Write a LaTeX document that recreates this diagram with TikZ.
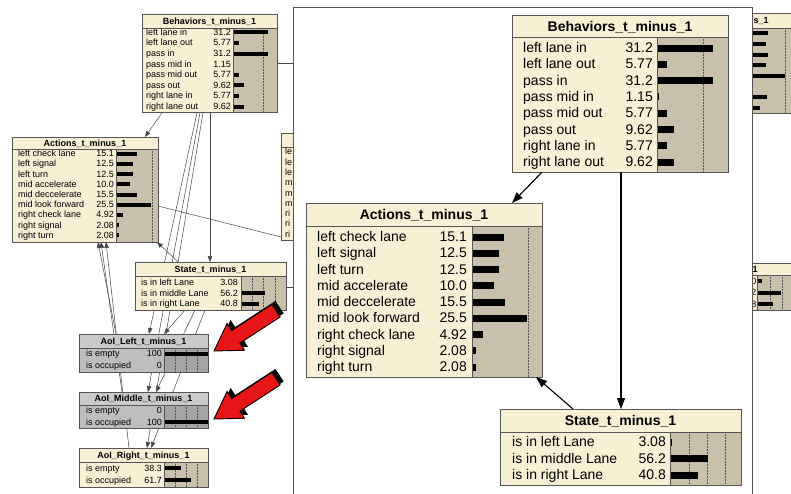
\documentclass[tikz,border=0pt]{standalone}
\usepackage{fontspec}
\setmainfont{Liberation Sans}
\usetikzlibrary{calc,arrows.meta}
\pgfdeclarelayer{bglayer}
\pgfdeclarelayer{edgelayer}
\pgfsetlayers{bglayer,edgelayer,main}

\definecolor{bncream}{RGB}{248,240,212}
\definecolor{bnbar}{RGB}{200,192,170}
\definecolor{bnline}{RGB}{85,85,85}
\definecolor{bnedge}{RGB}{70,70,70}
\definecolor{bngrayhead}{RGB}{202,202,202}
\definecolor{bngraybody}{RGB}{190,190,190}
\definecolor{bngraybar}{RGB}{165,165,165}
\definecolor{bnred}{RGB}{232,22,22}

\pgfkeys{
 /bn/.is family,
 /bn/x/.store in=\bnX, /bn/y/.store in=\bnY, /bn/w/.store in=\bnW,
 /bn/th/.store in=\bnTH, /bn/rh/.store in=\bnRH, /bn/n/.store in=\bnN,
 /bn/bpad/.store in=\bnBP, /bn/bl/.store in=\bnBL,
 /bn/lx/.store in=\bnLX, /bn/vx/.store in=\bnVX, /bn/bx/.store in=\bnBX,
 /bn/sc/.store in=\bnSC, /bn/fs/.store in=\bnFS, /bn/tfs/.store in=\bnTFS,
 /bn/bh/.store in=\bnBH, /bn/bc/.store in=\bnBC, /bn/dots/.store in=\bnDots,
 /bn/head/.store in=\bnHead, /bn/body/.store in=\bnBody, /bn/bar/.store in=\bnBar,
 /bn/title/.store in=\bnTitle,
}
\pgfkeys{/bn/.cd,x=0,y=0,w=100,th=14,rh=10,n=1,bpad=0,bl=3,lx=5,vx=80,bx=82,
 sc=1,fs=9,tfs=9,bh=4,bc=3,dots={25},head=bncream,body=bncream,bar=bnbar,title={}}

\newcommand\bnode[3]{%
\begin{scope}
\pgfkeys{/bn/.cd,#1}%
\pgfmathsetmacro\bnH{\bnTH+\bnN*\bnRH+\bnBP}%
\pgfmathsetmacro\bnTB{\bnTH/2+0.36*\bnTFS}%
\node[anchor=north west,minimum width=\bnW pt,minimum height=\bnH pt,inner sep=0pt,outer sep=0pt,fill=\bnHead] (#2) at (\bnX,\bnY) {};
\fill[\bnBody] ($(#2.north west)+(0,\bnTH)$) rectangle ($(#2.south west)+(\bnBX,0)$);
\fill[\bnBar] ($(#2.north west)+(\bnBX,\bnTH)$) rectangle (#2.south east);
\foreach \d in \bnDots {\draw[bnline,densely dotted,line width=0.5pt] ($(#2.north west)+(\bnBX+\d,\bnTH)$) -- ($(#2.south west)+(\bnBX+\d,0)$);}
\foreach \lab/\val [count=\i] in {#3} {
 \pgfmathsetmacro\bnB{\bnTH+\i*\bnRH-\bnBL}
 \pgfmathsetmacro\bnL{\val*\bnSC}
 \node[anchor=base west,inner sep=0pt,font=\fontsize{\bnFS}{\bnFS}\selectfont] (#2-l\i) at ($(#2.north west)+(\bnLX,\bnB)$) {\lab};
 \node[anchor=base east,inner sep=0pt,font=\fontsize{\bnFS}{\bnFS}\selectfont] (#2-v\i) at ($(#2.north west)+(\bnVX,\bnB)$) {\val};
 \fill[black] ($(#2.north west)+(\bnBX,\bnB-\bnBC-\bnBH/2)$) rectangle +(\bnL,\bnBH);
}
\node[anchor=base,inner sep=0pt,font=\fontsize{\bnTFS}{\bnTFS}\selectfont\bfseries] (#2-t) at ($(#2.north west)+(\bnW/2,\bnTB)$) {\bnTitle};
\draw[bnline,line width=0.7pt] ($(#2.north west)+(0,\bnTH)$) -- ($(#2.north east)+(0,\bnTH)$);
\draw[bnline,line width=0.6pt] ($(#2.north west)+(\bnBX,\bnTH)$) -- ($(#2.south west)+(\bnBX,0)$);
\draw[bnline,line width=0.8pt] (#2.north west) rectangle (#2.south east);
\end{scope}}

\newcommand\redarrow[3]{%
\begin{scope}[shift={(#1+3.5,#2-3.5)},rotate=#3]
 \fill[black] (0,0) -- (26,16) -- (26,7.5) -- (74,7.5) -- (74,-7.5) -- (26,-7.5) -- (26,-16) -- cycle;
\end{scope}
\begin{scope}[shift={(#1,#2)},rotate=#3]
 \filldraw[fill=bnred,draw=black,line width=0.9pt,line join=miter] (0,0) -- (26,16) -- (26,7.5) -- (74,7.5) -- (74,-7.5) -- (26,-7.5) -- (26,-16) -- cycle;
\end{scope}}

\tikzset{
 smallarc/.style={draw=bnedge,line width=0.5pt,-{Triangle[length=6pt,width=4.5pt]}},
 smallline/.style={draw=bnedge,line width=0.5pt},
 bigarc/.style={draw=black,line width=1.1pt,-{Triangle[length=11pt,width=8pt]}},
 panelline/.style={draw=bnline,line width=1pt},
 hidtext/.style={anchor=base west,inner sep=0pt,font=\fontsize{9}{9}\selectfont},
}

\begin{document}
\begin{tikzpicture}[x=1pt,y=-1pt]
\useasboundingbox (0,0) rectangle (791,493);
\clip (0,0) rectangle (791,493);
\begin{pgfonlayer}{bglayer}
\fill[white] (0,0) rectangle (791,493);
\end{pgfonlayer}

% ---------- left network (background) ----------
\bnode{x=142,y=14,w=135,th=14,rh=10.6,n=8,bpad=0,bl=3.3,lx=4,vx=89,bx=91,sc=1.12,fs=9,tfs=9,bh=4,bc=3,dots={30},title={Behaviors\_t\_minus\_1}}{sbeh}{left lane in/31.2,left lane out/5.77,pass in/31.2,pass mid in/1.15,pass mid out/5.77,pass out/9.62,right lane in/5.77,right lane out/9.62}

\bnode{x=12,y=137,w=146,th=12,rh=10.2,n=9,bpad=1.2,bl=2.5,lx=6,vx=102,bx=104,sc=1.37,fs=9,tfs=9,bh=4,bc=3,dots={36},title={Actions\_t\_minus\_1}}{sact}{left check lane/15.1,left signal/12.5,left turn/12.5,mid accelerate/10.0,mid deccelerate/15.5,mid look forward/25.5,right check lane/4.92,right signal/2.08,right turn/2.08}

\bnode{x=135,y=262,w=151,th=14,rh=10.5,n=3,bpad=2.5,bl=1,lx=6,vx=103,bx=106,sc=0.43,fs=9,tfs=9,bh=4,bc=3,dots={11.25,22.5,33.75},title={State\_t\_minus\_1}}{sst}{is in left Lane/3.08,is in middle Lane/56.2,is in right Lane/40.8}

\bnode{x=79,y=334,w=129,th=14,rh=11.5,n=2,bpad=1,bl=3,lx=7,vx=83,bx=85,sc=0.44,fs=9,tfs=9,bh=4,bc=3,dots={11,22,33},head=bngrayhead,body=bngraybody,bar=bngraybar,title={AoI\_Left\_t\_minus\_1}}{aoil}{is empty/100,is occupied/0}

\bnode{x=79,y=392,w=129,th=13,rh=11.5,n=2,bpad=0,bl=3,lx=7,vx=83,bx=85,sc=0.44,fs=9,tfs=9,bh=4,bc=3,dots={11,22,33},head=bngrayhead,body=bngraybody,bar=bngraybar,title={AoI\_Middle\_t\_minus\_1}}{aoim}{is empty/0,is occupied/100}

\bnode{x=79,y=448,w=129,th=14,rh=12,n=2,bpad=1,bl=3,lx=7,vx=83,bx=85,sc=0.44,fs=9,tfs=9,bh=4,bc=3,dots={11,22,33},title={AoI\_Right\_t\_minus\_1}}{aoir}{is empty/38.3,is occupied/61.7}

% hidden node left of the panel
\node[anchor=north west,minimum width=40pt,minimum height=107pt,inner sep=0pt,outer sep=0pt,fill=bncream,draw=bnline,line width=0.8pt] (hact) at (281,133) {};
\draw[bnline,line width=0.7pt] ($(hact.north west)+(0,14)$) -- ($(hact.north east)+(0,14)$);
\foreach \lab [count=\i] in {le,le,le,m,m,m,ri,ri,ri}
 \node[hidtext] (hact-l\i) at ($(hact.north west)+(4,14+\i*10.3-2.5)$) {\lab};

% hidden node top right
\node[anchor=north west,minimum width=100pt,minimum height=100pt,inner sep=0pt,outer sep=0pt,fill=bncream] (tbeh) at (700,13) {};
\fill[bnbar] ($(tbeh.north west)+(48,15)$) rectangle (tbeh.south east);
\draw[bnline,densely dotted,line width=0.5pt] ($(tbeh.north west)+(85,15)$) -- ($(tbeh.south west)+(85,0)$);
\foreach \bl [count=\i] in {20,18,20,18,37,0.5,19,12}
 \fill[black] ($(tbeh.north west)+(48,15+\i*10.6-5.3-2)$) rectangle +(\bl,4);
\draw[bnline,line width=0.7pt] ($(tbeh.north west)+(0,15)$) -- ($(tbeh.north east)+(0,15)$);
\draw[bnline,line width=0.8pt] (tbeh.north west) rectangle (tbeh.south east);
\node[anchor=base west,inner sep=0pt,font=\fontsize{9}{9}\selectfont\bfseries] (tbeh-t) at ($(tbeh.north west)+(53.5,10.5)$) {s\_1};

% hidden node bottom right
\node[anchor=north west,minimum width=100pt,minimum height=47pt,inner sep=0pt,outer sep=0pt,fill=bncream] (tst) at (700,263) {};
\fill[bnbar] ($(tst.north west)+(57,12)$) rectangle (tst.south east);
\foreach \d in {70,82}
 \draw[bnline,densely dotted,line width=0.5pt] ($(tst.north west)+(\d,12)$) -- ($(tst.south west)+(\d,0)$);
\foreach \v/\bl [count=\i] in {0/4,2/23,8/15} {
 \node[anchor=base east,inner sep=0pt,font=\fontsize{9}{9}\selectfont] (tst-v\i) at ($(tst.north west)+(56.5,12+\i*11.67-2.5)$) {\v};
 \fill[black] ($(tst.north west)+(58,12+\i*11.67-5.8-2)$) rectangle +(\bl,4);
}
\draw[bnline,line width=0.6pt] ($(tst.north west)+(57,12)$) -- ($(tst.south west)+(57,0)$);
\draw[bnline,line width=0.7pt] ($(tst.north west)+(0,12)$) -- ($(tst.north east)+(0,12)$);
\draw[bnline,line width=0.8pt] (tst.north west) rectangle (tst.south east);
\node[anchor=base west,inner sep=0pt,font=\fontsize{9}{9}\selectfont\bfseries] (tst-t) at ($(tst.north west)+(52.5,9)$) {1};

% free ends at the panel border
\coordinate (pe1) at (293,63);
\coordinate (pe2) at (293,287);

% edges of the left network (behind the nodes)
\begin{pgfonlayer}{edgelayer}
\draw[smallarc] ($(sbeh.south west)+(20,0)$) -- ($(sact.north west)+(133,0)$);
\draw[smallarc] ($(sbeh.south west)+(68,0)$) -- ($(sst.north west)+(75,0)$);
\draw[smallarc] ($(sbeh.south west)+(55,0)$) -- ($(aoil.north west)+(70,0)$);
\draw[smallarc] ($(sbeh.south west)+(58,0)$) -- ($(aoim.north west)+(69,0)$);
\draw[smallarc] ($(sbeh.south west)+(61,0)$) -- ($(aoir.north west)+(68,0)$);
\draw[smallarc] ($(sst.north west)+(43,0)$) -- ($(sact.south west)+(145,0)$);
\draw[smallarc] ($(sst.south west)+(50,0)$) -- ($(aoil.north west)+(85,0)$);
\draw[smallarc] ($(sst.south west)+(60,0)$) -- ($(aoim.north west)+(77,0)$);
\draw[smallarc] ($(sst.south west)+(70,0)$) -- ($(aoir.north west)+(72,0)$);
\draw[smallarc] ($(aoil.north west)+(37,0)$) -- ($(sact.south west)+(86,0)$);
\draw[smallarc] ($(aoim.north west)+(43,0)$) -- ($(sact.south west)+(89,0)$);
\draw[smallarc] ($(aoir.north west)+(50,0)$) -- ($(sact.south west)+(94,0)$);
\draw[smallline] ($(sact.north east)+(0,69)$) -- ($(hact.north west)+(0,104)$);
\draw[smallline] ($(sbeh.north east)+(0,49)$) -- (pe1);
\draw[smallline] ($(sst.north east)+(0,25)$) -- (pe2);
\end{pgfonlayer}

% ---------- zoom panel ----------
\fill[white] (293,7) rectangle (752,500);
\draw[panelline] (293,500) -- (293,7) -- (752,7) -- (752,500);

\bnode{x=512,y=15,w=216,th=22,rh=16.3,n=8,bpad=4.7,bl=0.8,lx=11,vx=141,bx=145,sc=1.8,fs=14,tfs=14,bh=7,bc=4.5,dots={46},title={Behaviors\_t\_minus\_1}}{bbeh}{left lane in/31.2,left lane out/5.77,pass in/31.2,pass mid in/1.15,pass mid out/5.77,pass out/9.62,right lane in/5.77,right lane out/9.62}

\bnode{x=306,y=203,w=236,th=23,rh=16.25,n=9,bpad=4.75,bl=0.55,lx=11,vx=161,bx=166,sc=2.15,fs=14,tfs=14,bh=7,bc=4.5,dots={56},title={Actions\_t\_minus\_1}}{bact}{left check lane/15.1,left signal/12.5,left turn/12.5,mid accelerate/10.0,mid deccelerate/15.5,mid look forward/25.5,right check lane/4.92,right signal/2.08,right turn/2.08}

\bnode{x=500,y=409,w=241,th=23,rh=16.6,n=3,bpad=3.2,bl=1.9,lx=12,vx=166,bx=170,sc=0.68,fs=14,tfs=14,bh=7,bc=4.5,dots={19,37,55},title={State\_t\_minus\_1}}{bst}{is in left Lane/3.08,is in middle Lane/56.2,is in right Lane/40.8}

\draw[bigarc] ($(bbeh.south west)+(30,0)$) -- ($(bact.north west)+(206,0)$);
\draw[bigarc] ($(bbeh.south west)+(109,0)$) -- ($(bst.north west)+(121,0)$);
\draw[bigarc] ($(bst.north west)+(73,0)$) -- ($(bact.south east)+(-6,0)$);

% ---------- red pointer arrows ----------
\redarrow{214}{351}{33}
\redarrow{214}{419}{33}
\end{tikzpicture}
\end{document}
